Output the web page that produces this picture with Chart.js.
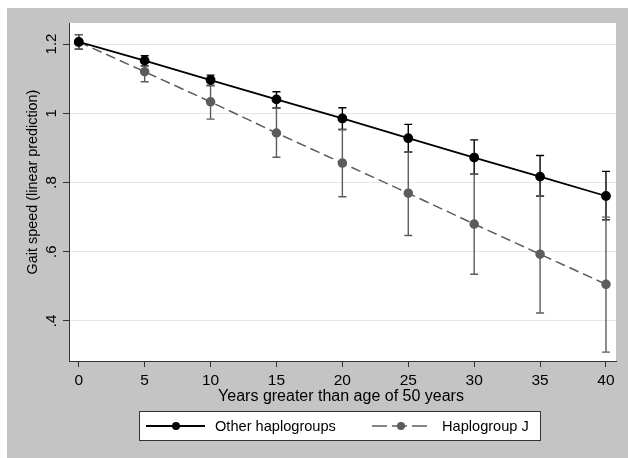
<!DOCTYPE html>
<html><head><meta charset="utf-8">
<script src="https://cdn.jsdelivr.net/npm/chart.js@4/dist/chart.umd.min.js"></script>
<style>html,body{margin:0;padding:0;background:#fff}#wrap{position:relative;width:628px;height:458px}</style>
</head><body><div id="wrap"><canvas id="c" width="628" height="458"></canvas></div>
<script>
const years = [0, 5, 10, 15, 20, 25, 30, 35, 40];
const otherMean = [1.206, 1.152, 1.096, 1.040, 0.985, 0.928, 0.872, 0.817, 0.761];
const otherLow  = [1.185, 1.137, 1.080, 1.015, 0.953, 0.888, 0.824, 0.761, 0.692];
const otherHigh = [1.227, 1.166, 1.110, 1.062, 1.016, 0.968, 0.923, 0.878, 0.832];
const jMean = [1.206, 1.120, 1.033, 0.943, 0.856, 0.769, 0.680, 0.593, 0.506];
const jLow  = [1.185, 1.091, 0.983, 0.873, 0.759, 0.647, 0.535, 0.423, 0.310];
const jHigh = [1.227, 1.136, 1.080, 1.015, 0.953, 0.888, 0.824, 0.762, 0.700];
const xTickValues = [0, 5, 10, 15, 20, 25, 30, 35, 40];
const yTickValues = [0.4, 0.6, 0.8, 1.0, 1.2];
const yTickLabels = ['.4', '.6', '.8', '1', '1.2'];
const seriesNames = ['Other haplogroups', 'Haplogroup J'];
const xTitle = 'Years greater than age of 50 years';
const yTitle = 'Gait speed (linear prediction)';

const FONT = '"Liberation Sans", Arial, sans-serif';
const BLACK = '#000000';
const GRAY = '#5c5c5c';

function pts(ys) { return years.map((x, i) => ({x: x, y: ys[i]})); }

const decor = {
  id: 'decor',
  beforeDraw(chart) {
    const ctx = chart.ctx, a = chart.chartArea;
    ctx.save();
    ctx.fillStyle = '#ffffff';
    ctx.fillRect(0, 0, chart.width, chart.height);
    ctx.fillStyle = '#c4c4c4';
    ctx.fillRect(7, 8, chart.width - 7, chart.height - 8);
    ctx.fillStyle = '#ffffff';
    ctx.fillRect(a.left, a.top, a.right - a.left, a.bottom - a.top);
    ctx.restore();
  },
  beforeDatasetsDraw(chart) {
    const ctx = chart.ctx, xs = chart.scales.x, ys = chart.scales.y;
    const sets = [[otherLow, otherHigh, BLACK], [jLow, jHigh, GRAY]];
    ctx.save();
    ctx.lineWidth = 1.4;
    sets.forEach(([lo, hi, col]) => {
      ctx.strokeStyle = col;
      years.forEach((x, i) => {
        const px = xs.getPixelForValue(x);
        const p1 = ys.getPixelForValue(lo[i]);
        const p2 = ys.getPixelForValue(hi[i]);
        ctx.beginPath();
        ctx.moveTo(px, p1); ctx.lineTo(px, p2);
        ctx.moveTo(px - 4, p1); ctx.lineTo(px + 4, p1);
        ctx.moveTo(px - 4, p2); ctx.lineTo(px + 4, p2);
        ctx.stroke();
      });
    });
    ctx.restore();
  },
  afterDraw(chart) {
    const ctx = chart.ctx, ys = chart.scales.y;
    ctx.save();
    ctx.fillStyle = '#000';
    ctx.textAlign = 'center';
    ctx.textBaseline = 'middle';
    // y tick labels (rotated)
    ctx.font = '15px ' + FONT;
    yTickValues.forEach((v, i) => {
      const py = ys.getPixelForValue(v);
      ctx.save();
      ctx.translate(52, py);
      ctx.rotate(-Math.PI / 2);
      ctx.fillText(yTickLabels[i], 0, 0);
      ctx.restore();
    });
    // y title
    ctx.font = '14.4px ' + FONT;
    ctx.save();
    ctx.translate(33, 182);
    ctx.rotate(-Math.PI / 2);
    ctx.fillText(yTitle, 0, 0);
    ctx.restore();
    // x title
    ctx.font = '16px ' + FONT;
    ctx.fillText(xTitle, 341, 397);
    // legend
    ctx.font = '14.6px ' + FONT;
    const bx = 139, by = 411, bw = 401, bh = 29, cy = by + bh / 2 + 0.5;
    ctx.fillStyle = '#fff';
    ctx.fillRect(bx, by, bw, bh);
    ctx.strokeStyle = '#333';
    ctx.lineWidth = 1;
    ctx.strokeRect(bx + 0.5, by + 0.5, bw, bh);
    const items = [[146, 205, 176, 215, BLACK, []], [372, 431, 401, 442, GRAY, [15, 5]]];
    items.forEach(([x1, x2, mx, tx, col, dash], k) => {
      ctx.strokeStyle = col;
      ctx.lineWidth = k === 0 ? 1.8 : 1.5;
      ctx.setLineDash(dash);
      ctx.beginPath(); ctx.moveTo(x1, cy); ctx.lineTo(x2, cy); ctx.stroke();
      ctx.setLineDash([]);
      ctx.fillStyle = col;
      ctx.beginPath(); ctx.arc(mx, cy, 4, 0, Math.PI * 2); ctx.fill();
      ctx.fillStyle = '#000';
      ctx.textAlign = 'left';
      ctx.fillText(seriesNames[k], tx, cy + 0.5);
    });
    ctx.restore();
  }
};

new Chart(document.getElementById('c'), {
  type: 'line',
  data: {
    datasets: [
      { label: seriesNames[0], data: pts(otherMean), borderColor: BLACK, backgroundColor: BLACK,
        pointBackgroundColor: BLACK, pointBorderColor: BLACK, pointRadius: 4, borderWidth: 1.8, tension: 0 },
      { label: seriesNames[1], data: pts(jMean), borderColor: GRAY, backgroundColor: GRAY,
        pointBackgroundColor: GRAY, pointBorderColor: GRAY, pointRadius: 4, borderWidth: 1.5,
        borderDash: [10, 5], tension: 0 }
    ]
  },
  options: {
    responsive: false,
    animation: false,
    devicePixelRatio: 1,
    layout: { padding: { top: 23, right: 12, left: 0, bottom: 0 } },
    plugins: { legend: { display: false }, tooltip: { enabled: false } },
    scales: {
      x: {
        type: 'linear', min: -0.74, max: 40.76,
        afterBuildTicks: s => { s.ticks = xTickValues.map(v => ({value: v})); },
        afterFit: s => { s.height = 97; },
        grid: { drawOnChartArea: false, drawTicks: true, tickLength: 6, tickColor: '#333' },
        border: { display: true, color: '#333', width: 1 },
        ticks: { font: { size: 15.5, family: FONT }, color: '#000', padding: 4, maxRotation: 0, autoSkip: false }
      },
      y: {
        type: 'linear', min: 0.2844, max: 1.2607,
        afterBuildTicks: s => { s.ticks = yTickValues.map(v => ({value: v})); },
        afterFit: s => { s.width = 69; },
        grid: { color: '#e6e6e6', lineWidth: 1, drawTicks: true, tickLength: 6, tickColor: '#333' },
        border: { display: true, color: '#333', width: 1 },
        ticks: { display: false }
      }
    }
  },
  plugins: [decor]
});
</script>
</body></html>
